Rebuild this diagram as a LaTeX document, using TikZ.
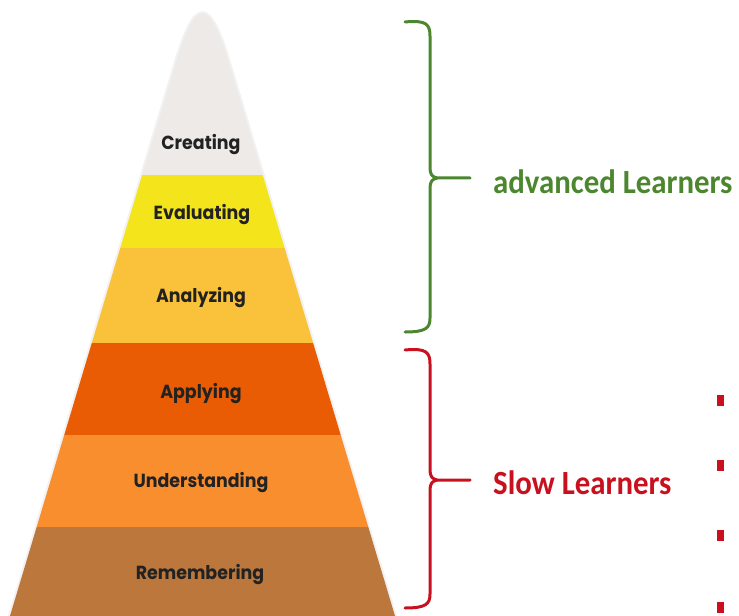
\documentclass[tikz,border=0pt]{standalone}
\usepackage{fontspec}
\newfontfamily\layerfont{Poppins}
\newfontfamily\sidefont{Carlito}
\definecolor{cCreate}{HTML}{EEEAE7}
\definecolor{cEval}{HTML}{F3E41C}
\definecolor{cAnal}{HTML}{F9C23A}
\definecolor{cApply}{HTML}{E95C04}
\definecolor{cUnder}{HTML}{F98E2E}
\definecolor{cRemem}{HTML}{BC773D}
\definecolor{cGreen}{HTML}{4C862F}
\definecolor{cRed}{HTML}{C8101E}
\definecolor{cText}{HTML}{222222}
\newcommand{\lyr}[1]{\scalebox{0.92}[1]{#1}}
\newcommand{\sdl}[1]{\scalebox{0.91}[1]{#1}}
\tikzset{
  layerlabel/.style={text=cText, font=\layerfont\bfseries\fontsize{19}{22}\selectfont, inner sep=0pt},
  sidelabel/.style={font=\sidefont\bfseries\fontsize{34}{38}\selectfont, inner sep=0pt, anchor=west},
  bracepath/.style={line width=3bp, line cap=round, line join=round},
  dotbox/.style={fill=cRed, minimum width=7bp, minimum height=11bp, inner sep=0pt, draw=none}
}
\begin{document}
\begin{tikzpicture}[x=1bp, y=-1bp]
\useasboundingbox (0,0) rectangle (739,616);
% pyramid outline glow
\def\pyr{(10,616) -- (176,62) .. controls (195.5,-3) and (209.3,-3) .. (228.8,62) -- (395,616) -- cycle}
\draw[gray!10, line width=4bp, line join=round] \pyr;
\begin{scope}
  \clip \pyr;
  \fill[cCreate] (0,0) rectangle (420,175);
  \fill[cEval] (0,175) rectangle (420,248);
  \fill[cAnal] (0,248) rectangle (420,343);
  \fill[cApply] (0,343) rectangle (420,435);
  \fill[cUnder] (0,435) rectangle (420,527);
  \fill[cRemem] (0,527) rectangle (420,620);
\end{scope}
% labels
\node[layerlabel] (creating) at (201,145) {\lyr{Creating}};
\node[layerlabel] (evaluating) at (202,215) {\lyr{Evaluating}};
\node[layerlabel] (analyzing) at (201,298) {\lyr{Analyzing}};
\node[layerlabel] (applying) at (201,394) {\lyr{Applying}};
\node[layerlabel] (understanding) at (201,483) {\lyr{Understanding}};
\node[layerlabel] (remembering) at (200,575) {\lyr{Remembering}};
% green brace
\draw[bracepath, cGreen] (405,22) .. controls (426,20) and (430,24) .. (430,36) -- (430,168)
  .. controls (430,174) and (432,177) .. (437,178) -- (470,178);
\draw[bracepath, cGreen] (437,178) .. controls (432,179) and (430,182) .. (430,188) -- (430,318)
  .. controls (430,328) and (426,332) .. (405,332);
\coordinate (gtip) at (470,178);
\node[sidelabel, text=cGreen] (adv) at (493,182) {\sdl{advanced Learners}};
% red brace
\draw[bracepath, cRed] (405,350) .. controls (426,348) and (430,352) .. (430,364) -- (430,470)
  .. controls (430,476) and (432,479) .. (437,480) -- (470,480);
\draw[bracepath, cRed] (437,480) .. controls (432,481) and (430,484) .. (430,490) -- (430,594)
  .. controls (430,604) and (426,608) .. (405,608);
\coordinate (rtip) at (470,480);
\node[sidelabel, text=cRed] (slow) at (493,483) {\sdl{Slow Learners}};
% dots
\node[dotbox] (d1) at (720,400) {};
\node[dotbox] (d2) at (720,465) {};
\node[dotbox] (d3) at (720,535) {};
\node[dotbox] (d4) at (720,607) {};
\end{tikzpicture}
\end{document}
